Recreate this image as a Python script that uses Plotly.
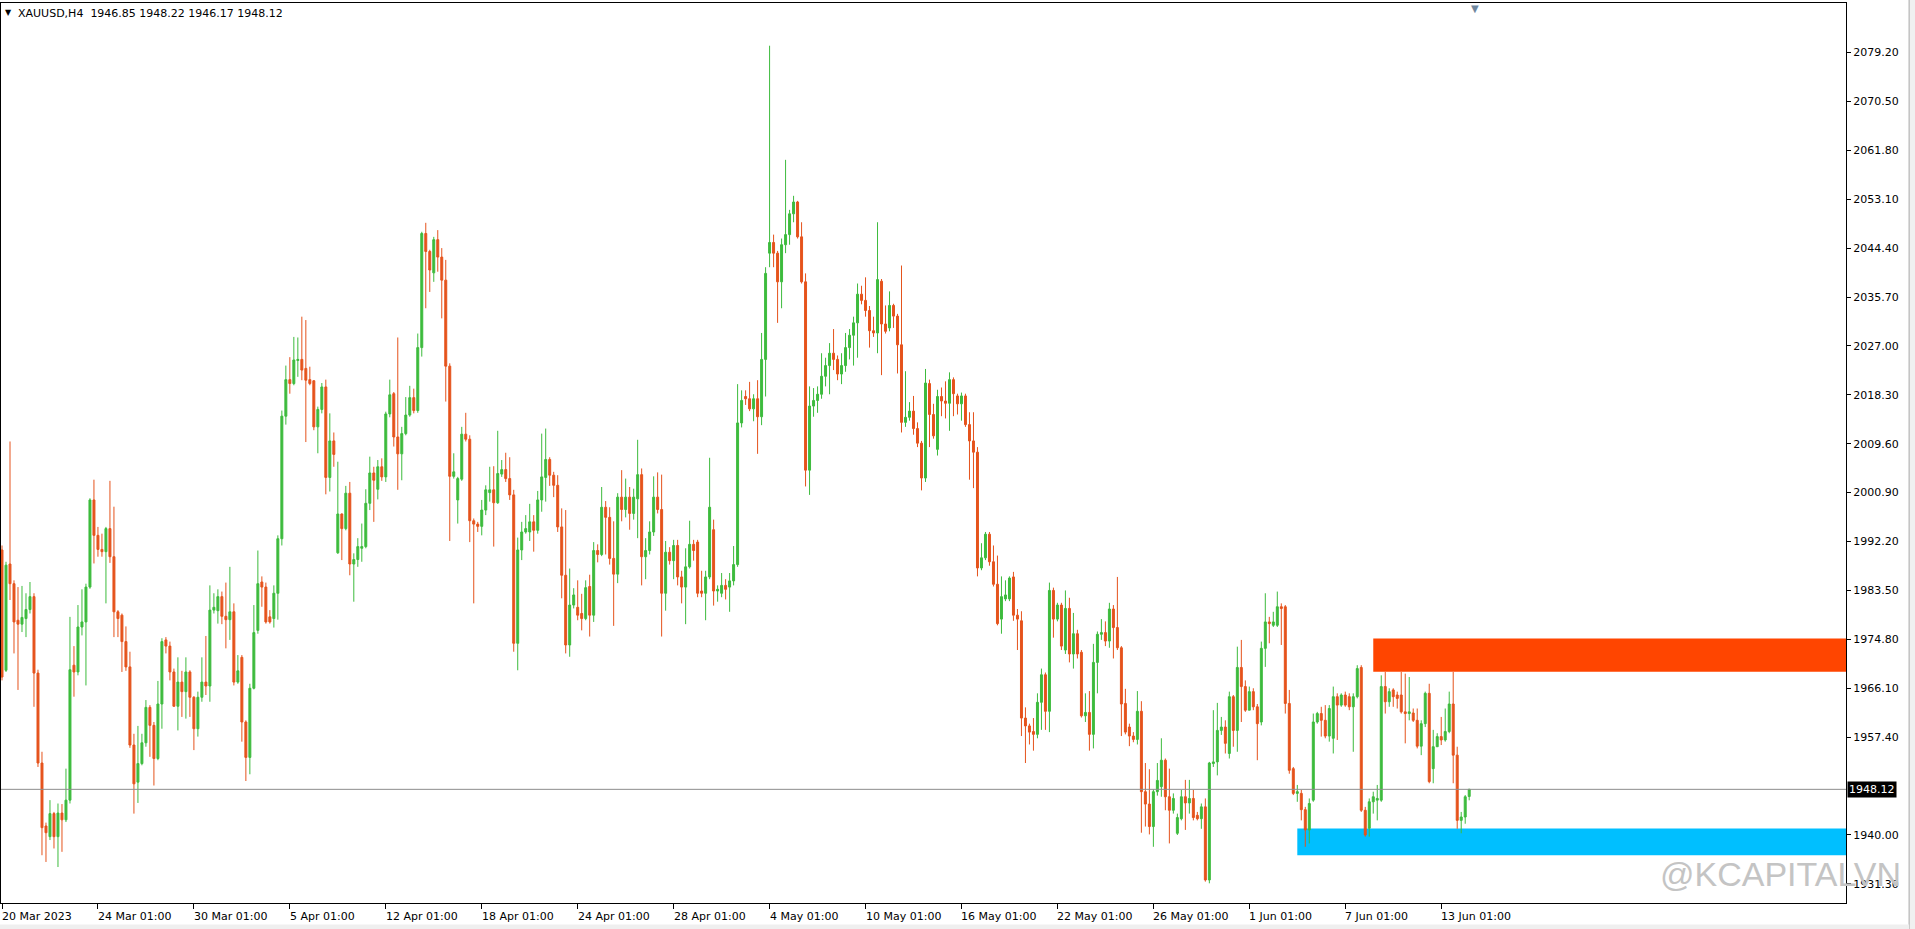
import plotly.graph_objects as go

# ---------------- data (XAUUSD H4) ----------------
open_ = [
1990.7,1969.3,1988.2,1984.7,1978.2,1977.5,1978.5,1980.1,1982.4,1968.8,
1952.8,1941.6,1939.7,1943.8,1939.7,1943.9,1942.7,1946.2,1970.2,1969.0,
1977.0,1977.9,1984.1,1999.6,1993.3,1990.8,1990.4,1994.5,1989.5,1979.7,
1979.1,1974.4,1969.9,1956.0,1949.4,1952.7,1956.4,1962.7,1959.5,1953.6,
1963.3,1974.7,1973.6,1969.0,1962.9,1967.2,1965.5,1969.0,1964.5,1958.9,
1964.5,1967.2,1966.5,1980.0,1979.9,1982.4,1978.9,1978.3,1979.7,1967.2,
1971.6,1960.1,1953.8,1966.1,1976.4,1985.0,1984.1,1978.8,1978.5,1983.0,
1992.7,2014.5,2021.0,2020.3,2024.4,2024.6,2023.0,2021.0,2020.8,2012.6,
2015.7,2019.7,2003.6,2010.1,1990.2,1997.1,1994.5,2000.8,1988.2,1989.0,
1991.0,1991.3,1999.0,2004.4,2001.5,2005.5,2003.7,2014.9,2018.5,2010.8,
2007.8,2011.4,2014.7,2017.8,2015.5,2026.7,2047.0,2043.8,2040.0,2045.9,
2042.8,2038.7,2023.4,2003.8,1999.6,2003.3,2011.3,2010.4,1995.9,1995.3,
1994.9,1997.8,2000.9,2001.4,1999.1,2004.2,2005.0,2003.4,2000.5,1974.1,
1990.7,1993.9,1993.9,1995.7,1994.2,1999.6,2003.6,2006.8,2004.0,2002.2,
1994.8,1986.2,1973.8,1980.9,1980.5,1979.4,1978.5,1984.2,1979.1,1990.6,
1989.9,1998.3,1996.5,1989.2,1986.4,2000.1,1997.9,2000.1,1997.2,1999.8,
2004.1,1989.5,1990.6,1993.9,2000.1,1997.9,1983.0,1990.3,1988.8,1991.5,
1985.9,1984.1,1987.7,1991.7,1992.1,1983.4,1983.0,1985.9,1994.3,1983.4,
1983.0,1984.4,1984.1,1985.2,1988.1,2013.3,2018.0,2017.6,2015.8,2017.6,
2014.4,2024.6,2043.5,2045.4,2043.5,2038.4,2045.0,2046.8,2050.5,2052.6,
2046.4,2038.4,2004.9,2016.3,2017.3,2018.4,2021.6,2023.5,2025.7,2024.6,
2022.0,2023.5,2026.7,2028.9,2031.1,2036.2,2035.1,2033.3,2029.7,2029.3,
2038.5,2030.9,2030.2,2034.2,2032.3,2027.2,2013.4,2014.3,2015.4,2012.3,
2009.7,2003.5,2020.3,2014.8,2008.6,2018.0,2017.2,2016.8,2021.0,2018.1,
2016.7,2018.1,2013.0,2010.1,2008.1,1987.5,1989.3,1993.5,1988.6,1984.6,
1978.4,1982.0,1982.0,1985.9,1979.1,1978.1,1960.8,1959.4,1958.4,1957.9,
1963.6,1968.5,1962.0,1983.5,1978.4,1980.9,1972.9,1980.3,1972.2,1975.8,
1972.5,1961.2,1961.8,1957.9,1970.7,1975.7,1976.0,1974.5,1980.2,1976.9,
1973.3,1963.4,1959.2,1957.6,1957.0,1962.0,1947.7,1945.5,1941.5,1947.7,
1948.6,1953.3,1946.8,1944.4,1940.3,1942.9,1946.8,1945.7,1946.5,1943.5,
1942.9,1945.0,1932.0,1952.7,1953.0,1958.6,1959.2,1954.5,1964.6,1958.6,
1969.8,1966.4,1962.2,1965.5,1962.8,1960.1,1973.2,1977.9,1977.3,1977.3,
1980.6,1980.6,1963.4,1951.8,1947.4,1947.4,1944.5,1940.9,1946.2,1960.1,
1961.6,1960.4,1957.6,1957.2,1964.6,1963.1,1964.9,1964.6,1962.8,1964.6,
1969.8,1944.4,1941.2,1945.9,1946.2,1946.2,1966.4,1963.7,1965.8,1964.9,
1964.9,1961.9,1961.6,1961.7,1960.4,1955.8,1959.8,1965.2,1951.8,1955.7,
1957.5,1956.9,1958.4,1963.3,1954.2,1942.6,1943.2,1946.85,
]
high = [
1991.5,1988.6,2010.0,1985.3,1984.1,1984.3,1983.0,1985.0,1983.0,1969.4,
1954.8,1942.2,1946.2,1944.1,1945.6,1945.5,1951.8,1978.8,1973.6,1980.9,
1983.7,1984.7,1999.9,2003.2,1994.8,1993.6,1994.8,2003.0,1998.4,1980.0,
1979.4,1977.1,1972.6,1958.0,1959.4,1958.0,1964.0,1963.1,1960.1,1967.4,
1975.0,1975.2,1974.4,1969.6,1971.6,1969.2,1971.6,1969.3,1964.7,1965.5,
1971.6,1975.4,1984.4,1983.0,1983.7,1983.3,1984.9,1987.7,1981.2,1972.0,
1972.0,1960.4,1966.9,1980.9,1990.6,1986.0,1984.9,1980.0,1984.4,1993.3,
2015.5,2023.5,2025.0,2028.6,2028.5,2032.2,2031.6,2023.3,2020.9,2016.2,
2020.4,2021.0,2015.0,2011.6,2006.4,1997.2,2002.1,2002.8,1990.1,1992.8,
1995.4,2001.5,2007.3,2005.5,2006.7,2007.0,2015.3,2021.0,2018.8,2028.5,
2012.6,2017.9,2019.9,2019.4,2029.2,2047.3,2048.9,2044.1,2046.4,2047.6,
2044.4,2042.3,2023.9,2007.9,2003.7,2012.6,2015.1,2011.1,1996.3,1995.7,
1999.6,2002.2,2005.5,2005.6,2011.9,2006.7,2008.0,2007.2,2001.4,1992.9,
1995.7,1996.9,1998.9,1996.9,2001.2,2011.4,2012.3,2007.2,2004.6,2004.0,
1998.1,1997.8,1987.4,1983.9,1985.3,1982.9,1985.3,1986.3,1992.1,1991.7,
2001.9,1999.4,1998.3,1995.8,2000.8,2004.9,2003.4,2001.9,2001.6,2010.3,
2005.2,1992.8,1995.8,2003.8,2004.5,2004.1,1992.3,1991.2,1992.5,1992.5,
1987.0,1991.0,1995.9,1992.5,1992.5,1987.0,1987.0,2007.1,1996.1,1984.4,
1986.6,1985.5,1986.6,1991.4,2020.2,2019.1,2019.1,2020.6,2018.4,2020.9,
2029.3,2041.0,2080.4,2046.8,2043.9,2046.1,2060.1,2051.2,2053.7,2052.8,
2049.0,2039.9,2019.8,2019.5,2019.8,2025.7,2024.9,2027.5,2030.0,2025.3,
2025.7,2029.3,2030.0,2032.2,2038.1,2037.7,2039.2,2034.1,2032.2,2049.0,
2038.9,2034.2,2036.7,2034.5,2032.7,2041.3,2022.5,2017.0,2018.1,2013.4,
2010.1,2022.9,2021.0,2016.7,2019.2,2019.6,2020.7,2022.3,2021.4,2018.5,
2018.7,2018.5,2015.2,2015.2,2009.0,1991.9,1993.9,1993.9,1991.5,1989.7,
1986.0,1985.3,1986.0,1986.8,1980.2,1979.8,1962.7,1959.8,1960.8,1965.2,
1969.6,1968.9,1984.9,1984.0,1981.3,1981.3,1983.5,1982.2,1979.5,1976.5,
1972.9,1965.2,1965.6,1974.0,1976.2,1978.4,1978.0,1981.3,1980.9,1985.9,
1973.6,1966.0,1959.8,1958.3,1965.6,1963.8,1952.8,1951.7,1948.1,1952.8,
1957.2,1953.6,1951.8,1947.4,1943.8,1948.0,1949.8,1949.8,1948.0,1944.1,
1945.6,1946.5,1953.0,1962.2,1963.5,1961.0,1960.4,1965.5,1964.9,1973.5,
1974.7,1967.5,1966.4,1966.1,1963.3,1974.4,1983.0,1978.8,1979.7,1983.3,
1981.2,1980.9,1965.8,1952.1,1948.9,1948.0,1945.0,1946.5,1961.6,1961.9,
1962.8,1963.1,1963.1,1966.4,1965.2,1965.2,1965.5,1965.2,1965.2,1970.2,
1970.2,1945.0,1946.5,1947.7,1948.9,1968.4,1969.0,1966.1,1966.1,1965.5,
1969.0,1968.7,1968.1,1962.5,1962.5,1960.4,1965.5,1966.9,1958.7,1958.1,
1961.0,1962.5,1965.5,1969.0,1955.7,1944.1,1947.1,1948.22,
]
low = [
1967.5,1969.0,1981.8,1972.3,1965.8,1976.1,1975.2,1979.4,1962.8,1952.1,
1936.4,1935.2,1939.1,1937.6,1934.3,1937.0,1942.3,1945.6,1964.6,1968.4,
1975.5,1966.6,1983.8,1988.3,1989.5,1989.5,1981.2,1988.4,1975.2,1975.2,
1969.0,1969.2,1955.5,1943.8,1945.7,1952.4,1955.7,1953.9,1948.8,1953.3,
1958.9,1972.3,1967.5,1962.8,1958.6,1961.0,1960.7,1961.0,1955.1,1957.5,
1963.7,1964.9,1963.7,1979.4,1977.6,1977.5,1973.2,1974.7,1966.6,1966.9,
1956.6,1949.6,1950.8,1965.9,1975.8,1980.6,1977.6,1977.6,1976.9,1978.3,
1991.5,2013.0,2018.5,2020.0,2021.5,2020.9,2009.9,2020.0,2012.0,2007.9,
2015.0,2000.6,2001.1,2005.5,1990.0,1988.9,1994.2,1986.2,1981.5,1987.7,
1988.6,1991.0,1997.8,1995.7,1999.7,2003.0,2002.8,2014.3,2009.1,2001.4,
2003.1,2011.1,2014.4,2015.0,2015.1,2025.1,2033.7,2036.6,2038.4,2040.2,
2031.9,2017.1,1992.3,2003.4,1995.4,2003.0,2010.0,1992.1,1981.2,1993.9,
1993.3,1996.9,1999.3,1991.3,1998.9,2003.7,2002.8,1999.6,1972.6,1969.3,
1988.9,1993.6,1992.3,1990.4,1993.6,1997.5,1999.3,2002.1,2000.1,1993.9,
1982.1,1972.3,1971.7,1980.3,1978.2,1976.4,1978.2,1975.3,1977.9,1988.5,
1989.6,1989.9,1988.1,1977.2,1984.8,1995.8,1996.5,1994.3,1996.1,1992.8,
1984.4,1985.5,1989.9,1993.2,1997.2,1975.3,1979.9,1988.1,1985.5,1984.4,
1981.2,1977.5,1987.4,1988.8,1982.3,1982.3,1978.2,1985.5,1980.8,1981.5,
1982.3,1981.9,1979.7,1984.4,1987.7,2012.5,2016.5,2015.4,2013.6,2007.8,
2012.9,2018.0,2041.0,2041.0,2031.1,2033.7,2043.5,2045.0,2049.0,2046.1,
2038.1,2002.0,2000.5,2014.4,2015.1,2017.6,2019.8,2018.4,2022.7,2020.9,
2020.2,2022.4,2024.6,2023.5,2024.9,2034.4,2032.2,2026.7,2028.6,2025.7,
2021.8,2029.2,2029.6,2030.2,2022.1,2011.6,2012.6,2013.7,2011.2,2009.0,
2001.3,2002.8,2009.0,2010.5,2007.5,2014.5,2014.1,2011.9,2014.5,2014.8,
2013.7,2012.6,2003.2,2001.7,1986.0,1987.1,1988.9,1987.9,1984.2,1977.3,
1975.8,1981.6,1981.6,1978.1,1972.9,1957.6,1952.8,1956.1,1955.0,1957.2,
1958.7,1958.7,1958.3,1975.1,1978.0,1972.9,1972.2,1970.7,1969.6,1971.4,
1960.9,1960.1,1955.0,1955.4,1965.2,1974.7,1973.6,1973.3,1971.4,1972.9,
1957.6,1957.9,1955.8,1956.5,1956.1,1940.4,1941.5,1940.1,1937.9,1947.0,
1946.8,1944.4,1938.5,1943.8,1940.0,1942.6,1940.9,1943.8,1942.6,1942.6,
1941.1,1931.7,1931.4,1952.1,1950.6,1957.8,1954.5,1953.6,1955.7,1954.8,
1960.1,1961.9,1962.2,1962.2,1953.3,1959.5,1969.9,1974.1,1977.0,1977.0,
1973.8,1961.6,1950.9,1947.1,1945.9,1942.6,1937.9,1938.5,1945.9,1959.8,
1957.5,1957.2,1956.6,1954.5,1956.9,1962.8,1962.8,1962.2,1954.8,1964.3,
1944.1,1939.7,1939.7,1943.8,1942.6,1945.9,1961.6,1962.8,1962.8,1962.5,
1961.6,1956.3,1960.4,1960.1,1955.4,1954.2,1959.2,1949.2,1949.2,1955.7,
1956.0,1956.6,1958.1,1949.2,1941.1,1940.3,1942.0,1946.17,
]
close = [
1968.1,1988.0,1984.7,1977.9,1977.5,1978.7,1980.1,1982.4,1968.8,1952.8,
1941.3,1940.4,1943.8,1939.7,1943.9,1942.7,1946.2,1969.4,1969.0,1977.0,
1977.9,1984.1,1999.6,1993.3,1990.8,1990.4,1994.5,1989.5,1979.7,1978.5,
1974.4,1969.9,1956.0,1949.1,1952.7,1956.4,1962.7,1959.5,1953.6,1963.3,
1974.4,1973.6,1969.0,1962.9,1967.2,1965.5,1969.0,1964.5,1958.9,1964.5,
1967.2,1966.5,1980.0,1980.5,1982.4,1978.9,1978.3,1979.7,1967.2,1969.2,
1960.1,1953.8,1966.1,1976.0,1984.7,1984.1,1977.9,1977.9,1983.0,1992.7,
2014.5,2021.0,2020.3,2024.5,2024.6,2022.7,2020.9,2020.3,2012.6,2015.7,
2019.7,2003.6,2010.1,2007.7,1997.1,1994.5,2000.8,1988.2,1989.0,1991.3,
1991.3,1999.0,2004.4,2003.1,2005.5,2003.7,2014.9,2018.3,2010.8,2007.8,
2011.4,2014.7,2017.8,2015.5,2026.7,2047.0,2043.8,2040.5,2045.9,2042.8,
2038.7,2023.4,2003.8,2004.6,2003.4,2011.3,2010.4,1995.9,1995.3,1994.9,
1997.8,2001.4,2001.4,1999.1,2004.3,2005.0,2003.4,2000.5,1974.1,1990.7,
1993.9,1994.5,1995.7,1994.2,1999.6,2003.7,2006.8,2004.0,2002.2,1994.8,
1986.2,1973.8,1980.9,1982.7,1979.1,1978.5,1984.0,1979.1,1990.6,1989.9,
1998.3,1996.5,1989.2,1986.4,2000.1,1997.9,2000.1,1997.2,2000.1,2004.1,
1989.5,1990.6,1993.9,2000.1,1997.9,1983.0,1990.3,1988.8,1991.5,1985.9,
1984.1,1987.7,1991.7,1990.6,1983.0,1983.0,1985.9,1998.3,1983.4,1983.7,
1984.4,1983.7,1985.2,1988.1,2013.3,2017.3,2017.6,2015.8,2017.6,2014.4,
2024.6,2039.9,2045.4,2043.5,2038.4,2045.0,2046.8,2050.5,2052.6,2046.4,
2038.4,2004.9,2016.3,2017.3,2018.4,2021.6,2023.5,2025.7,2024.6,2022.0,
2023.5,2026.7,2028.9,2031.1,2036.2,2035.1,2033.3,2029.7,2029.3,2038.8,
2030.9,2029.6,2034.2,2032.3,2027.2,2013.4,2014.3,2015.4,2012.3,2009.7,
2003.5,2020.4,2014.8,2011.0,2018.0,2017.2,2016.8,2021.0,2018.5,2016.7,
2018.1,2013.0,2010.1,2008.1,1987.5,1989.3,1993.5,1988.6,1984.6,1977.6,
1982.4,1982.7,1985.7,1979.1,1978.4,1960.8,1959.4,1958.3,1957.9,1963.6,
1968.5,1962.0,1983.5,1978.4,1980.9,1973.6,1980.3,1972.2,1975.8,1972.2,
1961.2,1961.8,1957.9,1970.7,1975.7,1976.0,1974.5,1980.2,1976.9,1973.3,
1963.3,1958.3,1957.6,1957.0,1962.0,1947.7,1945.5,1941.5,1947.7,1949.7,
1953.3,1946.8,1944.4,1946.5,1943.1,1946.8,1945.7,1946.5,1943.1,1942.9,
1945.0,1932.0,1952.8,1953.0,1958.6,1959.2,1956.3,1964.6,1958.6,1969.8,
1966.4,1962.2,1965.5,1962.8,1959.8,1973.2,1977.9,1977.6,1977.9,1980.6,
1980.3,1963.4,1951.5,1947.4,1947.7,1944.5,1940.9,1945.6,1960.1,1961.6,
1960.4,1957.6,1962.5,1964.6,1963.1,1964.9,1963.1,1962.8,1964.6,1969.6,
1944.4,1940.0,1945.9,1946.8,1946.5,1966.4,1963.7,1965.5,1964.6,1964.3,
1961.9,1961.6,1961.9,1960.4,1955.8,1959.8,1965.2,1949.5,1955.7,1957.5,
1956.9,1958.4,1963.3,1954.2,1942.6,1943.2,1946.8,1948.12,
]

tick_bars = [0, 24, 48, 72, 96, 120, 144, 168, 192, 216, 240, 264, 288, 312, 336, 360]
tick_labels = ["20 Mar 2023", "24 Mar 01:00", "30 Mar 01:00", "5 Apr 01:00", "12 Apr 01:00",
               "18 Apr 01:00", "24 Apr 01:00", "28 Apr 01:00", "4 May 01:00", "10 May 01:00",
               "16 May 01:00", "22 May 01:00", "26 May 01:00", "1 Jun 01:00", "7 Jun 01:00",
               "13 Jun 01:00"]
price_ticks = [2079.20, 2070.50, 2061.80, 2053.10, 2044.40, 2035.70, 2027.00, 2018.30,
               2009.60, 2000.90, 1992.20, 1983.50, 1974.80, 1966.10, 1957.40, 1940.00, 1931.30]

symbol_title = "XAUUSD,H4\u00a0\u00a01946.85 1948.22 1946.17 1948.12"
last_price = 1948.12

# supply / demand zones: (first bar, top price, bottom price, colour)
zones = [
    (343, 1974.96, 1969.03, "#FF4500"),
    (324, 1941.16, 1936.41, "#00BFFF"),
]

watermark = "@KCAPITALVN"

# ---------------- figure ----------------
bars = list(range(len(close)))
UP = "#3DBB3D"
DOWN = "#E5531C"
FONT = "DejaVu Sans"

fig = go.Figure()
fig.add_trace(go.Candlestick(
    x=bars, open=open_, high=high, low=low, close=close,
    increasing=dict(line=dict(color=UP, width=1), fillcolor=UP),
    decreasing=dict(line=dict(color=DOWN, width=1), fillcolor=DOWN),
    whiskerwidth=0, showlegend=False, hoverinfo="skip",
))

X_MAX = 461.25
shapes = []
for start, top, bottom, col in zones:
    shapes.append(dict(type="rect", xref="x", yref="y", x0=start, x1=X_MAX,
                       y0=bottom, y1=top, fillcolor=col, line=dict(width=0), layer="below"))
shapes.append(dict(type="line", xref="paper", yref="y", x0=0, x1=1, y0=last_price, y1=last_price,
                   line=dict(color="#8C8C8C", width=1)))
# window chrome (light grey right edge and bottom strip)
shapes.append(dict(type="rect", xref="paper", yref="paper", x0=1.0342, x1=1.05, y0=-0.1, y1=1.01,
                   fillcolor="#F0F0F0", line=dict(color="#A8A8A8", width=1), layer="below"))
shapes.append(dict(type="rect", xref="paper", yref="paper", x0=-0.01, x1=1.0342, y0=-0.03,
                   y1=-0.024, fillcolor="#EFEFEF", line=dict(width=0), layer="below"))

annotations = []
for b, t in zip(tick_bars, tick_labels):
    annotations.append(dict(x=b - 0.25, xref="x", y=0, yref="paper", text=t, showarrow=False,
                            xanchor="left", yanchor="top", yshift=-5, xshift=-1,
                            font=dict(family=FONT, size=11, color="#000000")))
annotations.append(dict(x=0, xref="paper", y=1, yref="paper", text="▼", showarrow=False,
                        xanchor="left", yanchor="top", xshift=2, yshift=-3,
                        font=dict(family=FONT, size=8, color="#000000")))
annotations.append(dict(x=0, xref="paper", y=1, yref="paper", text=symbol_title, showarrow=False,
                        xanchor="left", yanchor="top", xshift=15, yshift=-2,
                        font=dict(family=FONT, size=11, color="#000000")))
annotations.append(dict(x=1, xref="paper", y=last_price, yref="y", text=f"{last_price:.2f}",
                        showarrow=False, xanchor="left", xshift=1, bgcolor="#000000",
                        borderpad=1, font=dict(family=FONT, size=11, color="#FFFFFF")))
annotations.append(dict(x=368.5, xref="x", y=1, yref="paper", text="▼", showarrow=False,
                        xanchor="center", yanchor="top", yshift=2,
                        font=dict(family=FONT, size=10, color="#6F879E")))
annotations.append(dict(x=0.898, xref="paper", y=0.032, yref="paper", text=watermark,
                        showarrow=False, xanchor="left", yanchor="middle",
                        font=dict(family="Liberation Sans", size=34, color="#C4C4C4")))

fig.update_layout(
    width=1915, height=929, autosize=False,
    margin=dict(l=1, r=69, t=3, b=26, pad=0),
    paper_bgcolor="#FFFFFF", plot_bgcolor="#FFFFFF",
    shapes=shapes, annotations=annotations,
    xaxis=dict(range=[-0.25, X_MAX], showgrid=False, zeroline=False,
               showline=True, linecolor="#000000", linewidth=1, mirror=True,
               ticks="outside", ticklen=5, tickcolor="#000000", tickwidth=1,
               tickvals=tick_bars, showticklabels=False,
               rangeslider=dict(visible=False), fixedrange=True),
    yaxis=dict(range=[1927.9, 2088.0], side="right", showgrid=False, zeroline=False,
               showline=True, linecolor="#000000", linewidth=1, mirror=True,
               ticks="outside", ticklen=4, tickcolor="#000000",
               tickvals=price_ticks, ticktext=[f"{v:.2f}" for v in price_ticks],
               tickfont=dict(family=FONT, size=11, color="#000000"),
               fixedrange=True),
    showlegend=False,
)

fig.write_html("out.html", config={"displayModeBar": False},
               post_script="document.body.style.margin='0px';document.body.style.overflow='hidden';")
